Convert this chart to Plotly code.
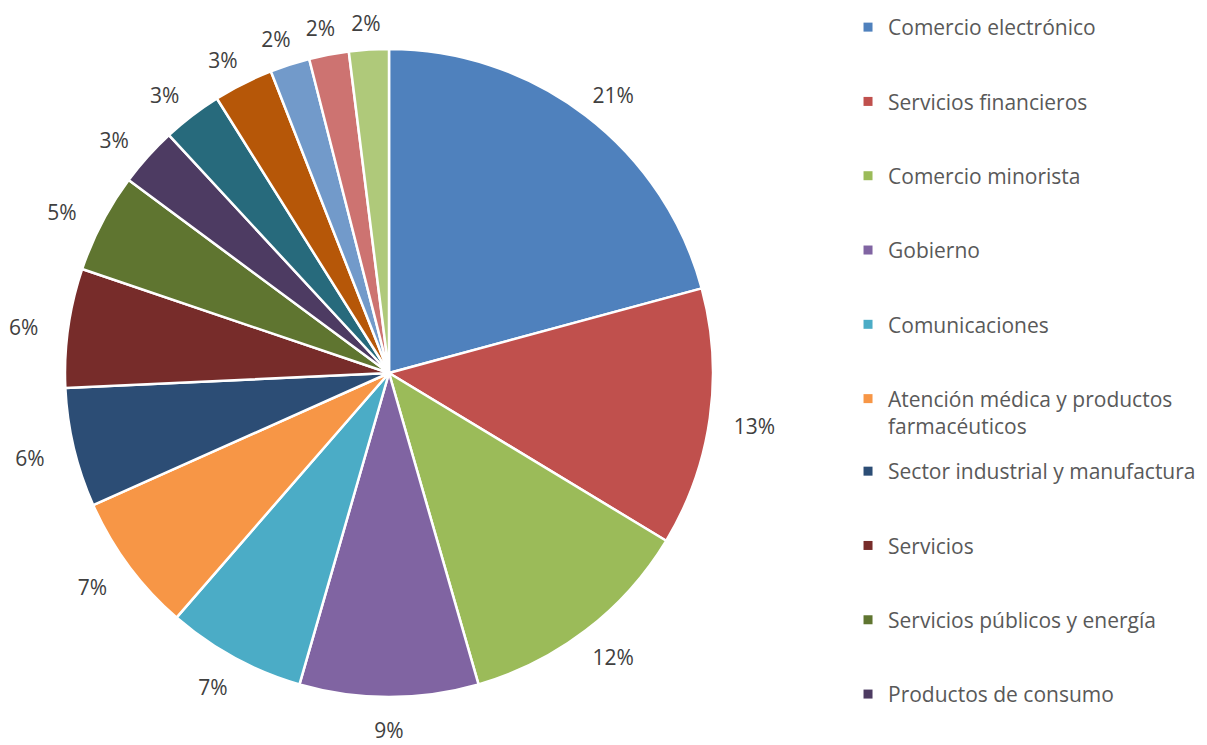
import math
import plotly.graph_objects as go

categories = [
    "Comercio electrónico", "Servicios financieros", "Comercio minorista", "Gobierno",
    "Comunicaciones", "Atención médica y productos<br>farmacéuticos",
    "Sector industrial y manufactura", "Servicios", "Servicios públicos y energía",
    "Productos de consumo", "Otro sector 1", "Otro sector 2", "Otro sector 3",
    "Otro sector 4", "Otro sector 5",
]
values = [21, 13, 12, 9, 7, 7, 6, 6, 5, 3, 3, 3, 2, 2, 2]
colors = [
    "#4F81BD", "#C0504D", "#9BBB59", "#8064A2", "#4BACC6", "#F79646",
    "#2C4D75", "#772C2A", "#5F7530", "#4D3B62", "#276A7C", "#B65708",
    "#729ACA", "#CD7371", "#AFC97A",
]
n_legend = 10  # entries visible in the legend
labels_txt = [f"{v}%" for v in values]

# the page body adds an 8px offset, so the figure is 8px smaller than the window
W, H = 1199, 737
cx, cy, r = 381, 365, 324          # pie centre and radius (px, from top-left)
LAB_A, LAB_B, LAB_DY = 369, 354, 6  # label ellipse semi-axes and downward shift (px)

def dom(rad):
    return dict(x=[(cx - rad) / W, (cx + rad) / W],
                y=[(H - cy - rad) / H, (H - cy + rad) / H])

# mid-angle of every slice (clockwise from 12 o'clock), from the values
total = sum(values)
mid_theta, acc = [], 0
for v in values:
    mid_theta.append((acc + v / 2) / total * 2 * math.pi)
    acc += v
lab_x = [LAB_A * math.sin(t) for t in mid_theta]
lab_y = [LAB_B * math.cos(t) - LAB_DY for t in mid_theta]

font = "Open Sans, Lato, sans-serif"
fig = go.Figure()

fig.add_trace(go.Pie(
    labels=categories, values=values, sort=False, direction="clockwise", rotation=0,
    domain=dom(r), marker=dict(colors=colors, line=dict(color="white", width=2.5)),
    textinfo="none", showlegend=False,
    hovertemplate="%{label}: %{value}%<extra></extra>",
))

# percentage labels, placed round the pie on hidden axes scaled 1 unit = 1 px
fig.add_trace(go.Scatter(
    x=lab_x, y=lab_y, mode="text", text=labels_txt, textposition="middle center",
    textfont=dict(family=font, size=21, color="#404040"), cliponaxis=False,
    hoverinfo="skip", showlegend=False,
))

for i in range(n_legend):
    fig.add_trace(go.Scatter(
        x=[None], y=[None], mode="markers", name=categories[i],
        marker=dict(symbol="square", size=9, color=colors[i]),
        legendgroup=f"g{i}", legend="legend" if i < 6 else "legend2",
    ))

leg_common = dict(
    font=dict(family=font, size=21, color="#595959"), tracegroupgap=44,
    valign="top", xanchor="left", yanchor="top", bgcolor="rgba(0,0,0,0)",
    itemclick=False, itemdoubleclick=False, maxheight=720,
)
fig.update_layout(
    width=W, height=H, margin=dict(l=0, r=0, t=0, b=0, autoexpand=False),
    paper_bgcolor="white", plot_bgcolor="rgba(0,0,0,0)",
    xaxis=dict(range=[-cx, W - cx], visible=False, fixedrange=True),
    yaxis=dict(range=[-(H - cy), cy], visible=False, fixedrange=True),
    legend=dict(x=0.7006, y=1.0014, **leg_common),
    legend2=dict(x=0.7006, y=0.3989, **leg_common),
    showlegend=True,
)
fig.write_html("out.html")
